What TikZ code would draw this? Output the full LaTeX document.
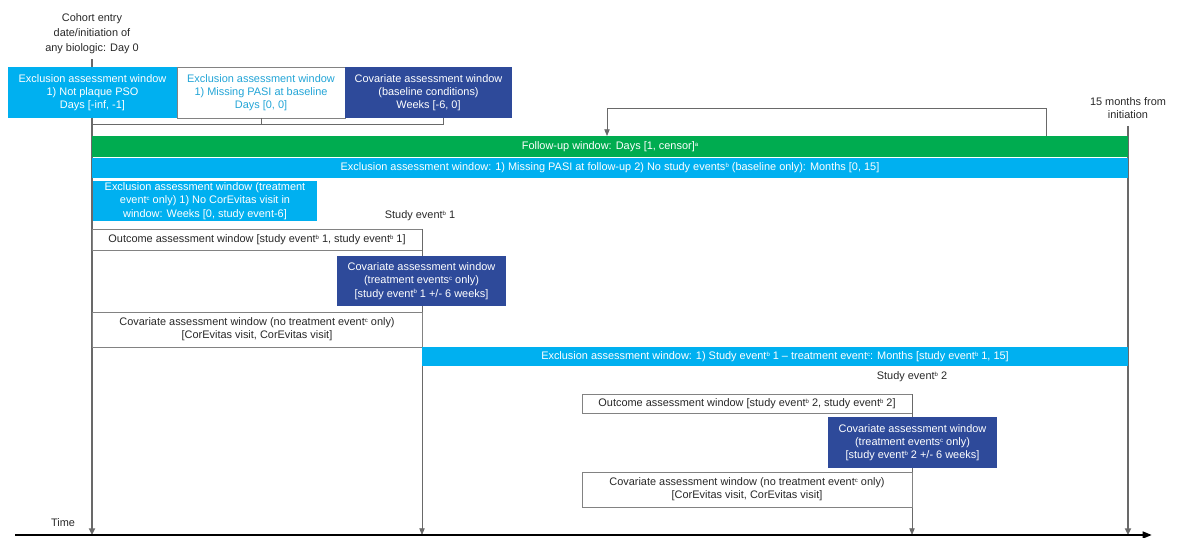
\documentclass[tikz,border=0pt]{standalone}
\usepackage{fontspec}
\setmainfont{Liberation Sans}
\usetikzlibrary{arrows.meta,calc}
\definecolor{cyanc}{RGB}{0,176,240}
\definecolor{darkb}{RGB}{46,74,154}
\definecolor{greenc}{RGB}{0,172,80}
\definecolor{lineg}{RGB}{105,105,105}
\definecolor{boxg}{RGB}{130,130,130}
\definecolor{cyantext}{RGB}{35,165,215}
\definecolor{txt}{RGB}{40,40,40}
\newcommand{\Sup}[1]{\raisebox{0.55ex}{\fontsize{4.5}{5}\selectfont #1}}
\begin{document}
\begin{tikzpicture}[x=0.75pt,y=-0.75pt,
  font=\fontsize{8.2}{9.9}\selectfont,
  win/.style 2 args={inner sep=0pt, outer sep=0pt, align=center,
    minimum width={(#1)*0.75pt}, minimum height={(#2)*0.75pt}},
  cyanbox/.style={fill=cyanc, text=white},
  darkbox/.style={fill=darkb, text=white},
  greenbox/.style={fill=greenc, text=white},
  whitebox/.style={fill=white, draw=boxg, line width=0.6pt, text=txt},
  lbl/.style={align=center, text=txt, inner sep=0pt},
  thinv/.style={draw=lineg, line width=0.6pt, -{Triangle[length=5pt,width=4pt]}},
  thickv/.style={draw=lineg, line width=1.6pt, -{Triangle[length=5pt,width=4.5pt]}},
  brk/.style={draw=lineg, line width=0.6pt}
]
\useasboundingbox (0,0) rectangle (1177,538);

% time axis
\coordinate (tA) at (15,535);
\coordinate (tB) at (1152,535);

% labels
\node[lbl, font=\fontsize{8.2}{11.25}\selectfont] (cohort) at (92,34) {Cohort entry\\date/initiation of\\any biologic: Day 0};
\node[lbl] (fifteen) at (1128,108) {15 months from\\initiation};
\node[lbl] (timel) at (63,523) {Time};
\node[lbl] (se1) at (420,216) {Study event\Sup{b} 1};
\node[lbl] (se2) at (912,377) {Study event\Sup{b} 2};

% main vertical lines (drawn first, behind boxes)
\draw[thickv] (cohort.south) ++(0,5) coordinate (c0) -- (c0 |- tA);
\draw[thickv] (fifteen.south) ++(0,7) coordinate (f0) -- (f0 |- tA);

% top boxes
\node[win={169}{51}, cyanbox] (b1) at (92.5,92.5) {Exclusion assessment window\\1) Not plaque PSO\\Days [-inf, -1]};
\node[win={168}{51}, whitebox, text=cyantext] (b2) at (261,92.5) {Exclusion assessment window\\1) Missing  PASI at baseline\\Days [0, 0]};
\node[win={167}{51}, darkbox] (b3) at (428.5,92.5) {Covariate assessment window\\(baseline conditions)\\Weeks [-6, 0]};

% bracket
\coordinate (k3) at (443,118);
\draw[brk] (b1.south) -- ++(0,6) coordinate (k1) -- (k1 -| k3) -- (k3);
\draw[brk] (b2.south) -- (b2.south |- k1);

% bars
\node[win={1036}{21}, greenbox] (gbar) at (610,146.5) {Follow-up window: Days [1, censor]\Sup{a}};
\node[win={1036}{20}, cyanbox] (cbar) at (610,168) {Exclusion assessment window: 1) Missing PASI at follow-up 2) No study events\Sup{b} (baseline only): Months [0, 15]};

% feedback arrow
\draw[draw=lineg, line width=0.6pt, -{Triangle[length=5pt,width=4pt]}]
  ($(gbar.north west)+(954,0)$) -- ++(0,-28) -| ($(gbar.north west)+(515,0)$);

% treatment exclusion box
\node[win={224}{40}, cyanbox] (tbox) at (205,201) {Exclusion assessment window (treatment\\event\Sup{c} only) 1) No CorEvitas visit in\\window: Weeks [0, study event-6]};

% study event 1 group
\node[win={330}{21}, whitebox] (out1) at (257,239.5) {Outcome assessment window [study event\Sup{b} 1, study event\Sup{b} 1]};
\draw[thinv] (out1.north east) -- (out1.north east |- tA);
\node[win={330}{35}, whitebox] (cov1) at (257,329.5) {Covariate assessment window (no treatment event\Sup{c} only)\\{[CorEvitas visit,  CorEvitas visit]}};
\node[win={169}{50}, darkbox] (dk1) at (421.5,281) {Covariate assessment window\\(treatment events\Sup{c} only)\\{[study event\Sup{b} 1 +/- 6 weeks]}};

\node[win={706}{19}, cyanbox] (cbar2) at (775,356.5) {Exclusion assessment window: 1) Study event\Sup{b} 1 -- treatment event\Sup{c}: Months [study event\Sup{b} 1, 15]};

% study event 2 group
\node[win={330}{19}, whitebox] (out2) at (747,403.5) {Outcome assessment window [study event\Sup{b} 2, study event\Sup{b} 2]};
\draw[thinv] (out2.north east) -- (out2.north east |- tA);
\node[win={330}{35}, whitebox] (cov2) at (747,489.5) {Covariate assessment window (no treatment event\Sup{c} only)\\{[CorEvitas visit,  CorEvitas visit]}};
\node[win={169}{51}, darkbox] (dk2) at (912.5,442.5) {Covariate assessment window\\(treatment events\Sup{c} only)\\{[study event\Sup{b} 2 +/- 6 weeks]}};

% axis
\draw[line width=2pt, -{Triangle[length=7pt,width=5pt]}] (tA) -- (tB);
\end{tikzpicture}
\end{document}
